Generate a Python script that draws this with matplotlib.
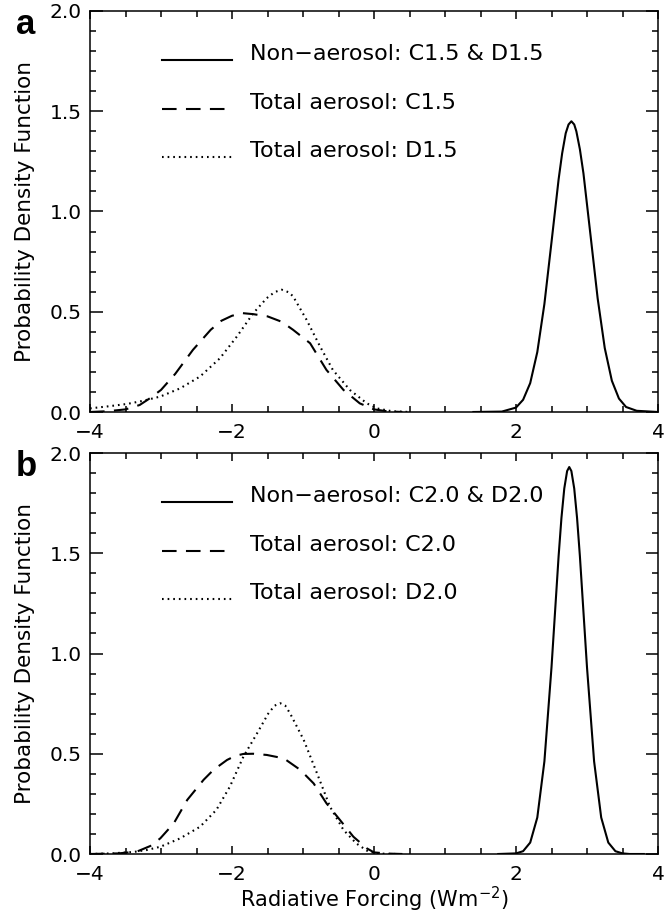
import matplotlib
matplotlib.use("Agg")
import matplotlib.pyplot as plt
from matplotlib.ticker import MultipleLocator

plt.rcParams['font.family'] = ['DejaVu Sans']

# Panel a: PDFs (C1.5 / D1.5)
xa_solid = [1.4, 1.8, 2.0, 2.1, 2.2, 2.3, 2.4, 2.5, 2.6, 2.65, 2.7, 2.74, 2.78, 2.82, 2.85, 2.9, 2.95,
            3.05, 3.15, 3.25, 3.35, 3.45, 3.55, 3.7, 4.0]
ya_solid = [0.0, 0.002, 0.022, 0.061, 0.144, 0.299, 0.539, 0.847, 1.16, 1.29, 1.39, 1.434, 1.45, 1.434,
            1.40, 1.31, 1.19, 0.88, 0.567, 0.319, 0.156, 0.067, 0.025, 0.006, 0.0]
xa_dash = [-4.0, -3.75, -3.5, -3.3, -3.15, -3.0, -2.8, -2.55, -2.3, -2.15, -2.0, -1.85, -1.7, -1.5,
           -1.3, -1.14, -0.9, -0.67, -0.43, -0.2, 0.0, 0.2, 0.4]
ya_dash = [0.0, 0.004, 0.013, 0.035, 0.07, 0.11, 0.19, 0.31, 0.41, 0.455, 0.48, 0.493, 0.488, 0.477,
           0.45, 0.41, 0.343, 0.21, 0.11, 0.043, 0.013, 0.003, 0.0]
xa_dot = [-4.0, -3.75, -3.48, -3.25, -3.01, -2.73, -2.45, -2.17, -1.93, -1.7, -1.51, -1.4, -1.3, -1.2,
          -1.14, -0.95, -0.76, -0.58, -0.34, -0.1, 0.04, 0.25, 0.5]
ya_dot = [0.018, 0.028, 0.04, 0.056, 0.077, 0.118, 0.177, 0.268, 0.377, 0.493, 0.568, 0.598, 0.61, 0.597,
          0.577, 0.46, 0.327, 0.21, 0.11, 0.043, 0.018, 0.004, 0.0]

# Panel b: PDFs (C2.0 / D2.0)
xb_solid = [1.75, 2.0, 2.1, 2.2, 2.3, 2.4, 2.5, 2.6, 2.64, 2.68, 2.72, 2.75, 2.78, 2.82, 2.86, 2.9,
            3.0, 3.1, 3.2, 3.3, 3.4, 3.5, 3.6, 3.8]
yb_solid = [0.0, 0.003, 0.014, 0.057, 0.182, 0.462, 0.931, 1.485, 1.676, 1.823, 1.91, 1.93, 1.91, 1.823,
            1.676, 1.485, 0.931, 0.462, 0.182, 0.057, 0.014, 0.003, 0.0, 0.0]
xb_dash = [-4.0, -3.6, -3.34, -3.15, -3.01, -2.82, -2.63, -2.4, -2.26, -2.07, -1.95, -1.84, -1.7, -1.51,
           -1.27, -1.04, -0.85, -0.67, -0.48, -0.29, -0.1, 0.0, 0.2, 0.4]
yb_dash = [0.0, 0.003, 0.012, 0.04, 0.078, 0.153, 0.27, 0.37, 0.42, 0.469, 0.49, 0.499, 0.5, 0.494,
           0.477, 0.42, 0.352, 0.253, 0.17, 0.086, 0.028, 0.008, 0.002, 0.0]
xb_dot = [-4.0, -3.7, -3.39, -3.2, -3.01, -2.73, -2.45, -2.22, -2.03, -1.84, -1.65, -1.49, -1.4, -1.32,
          -1.25, -1.18, -0.99, -0.8, -0.62, -0.43, -0.25, -0.08, 0.1, 0.3]
yb_dot = [0.0, 0.003, 0.01, 0.02, 0.036, 0.078, 0.136, 0.22, 0.336, 0.485, 0.60, 0.70, 0.74, 0.752,
          0.74, 0.70, 0.569, 0.40, 0.236, 0.12, 0.053, 0.012, 0.002, 0.0]

labels_a = ["Non\u2212aerosol: C1.5 & D1.5", "Total aerosol: C1.5", "Total aerosol: D1.5"]
labels_b = ["Non\u2212aerosol: C2.0 & D2.0", "Total aerosol: C2.0", "Total aerosol: D2.0"]

W, H = 671, 913
fig = plt.figure(figsize=(W / 100, H / 100), dpi=100)

# axes boxes in pixels (left, top, right, bottom)
boxes = [(90, 11, 658, 412), (90, 453, 658, 854)]

styles = [dict(ls='-'), dict(ls=(0, (7, 4.5))), dict(ls=(0, (0.8, 1.9)))]
lw = 1.5

panels = [
    ("a", [(xa_solid, ya_solid), (xa_dash, ya_dash), (xa_dot, ya_dot)], labels_a),
    ("b", [(xb_solid, yb_solid), (xb_dash, yb_dash), (xb_dot, yb_dot)], labels_b),
]

for (l, t, r, b), (tag, curves, labels) in zip(boxes, panels):
    ax = fig.add_axes([l / W, 1 - b / H, (r - l) / W, (b - t) / H])
    for (x, y), st in zip(curves, styles):
        ax.plot(x, y, color='black', lw=lw, **st)

    ax.set_xlim(-4, 4)
    ax.set_ylim(0, 2.0)
    ax.xaxis.set_major_locator(MultipleLocator(2))
    ax.xaxis.set_minor_locator(MultipleLocator(0.5))
    ax.yaxis.set_major_locator(MultipleLocator(0.5))
    ax.yaxis.set_minor_locator(MultipleLocator(0.1))
    ax.yaxis.set_major_formatter(plt.FormatStrFormatter('%.1f'))
    ax.tick_params(which='both', direction='in', top=True, right=True, width=1.1, labelsize=14.5)
    ax.tick_params(axis='x', which='major', length=6, pad=8)
    ax.tick_params(axis='x', which='minor', length=4)
    ax.tick_params(axis='y', which='major', length=9, pad=6)
    ax.tick_params(axis='y', which='minor', length=4.5)
    for s in ax.spines.values():
        s.set_linewidth(1.1)

    # hand-drawn legend, lines sit on the text baseline
    for k, (lab, st) in enumerate(zip(labels, styles)):
        yy = 0.878 - k * 0.1215
        ax.plot([0.127, 0.25], [yy, yy], transform=ax.transAxes, color='black', lw=lw, **st)
        ax.text(0.282, yy, lab, transform=ax.transAxes, fontsize=16, ha='left', va='baseline')

    # panel letter and y label
    fig.text(16 / W, 1 - (t + 23) / H, tag, fontsize=25, fontweight='bold', ha='left', va='baseline',
             family='Liberation Sans')
    fig.text(25 / W, 1 - (t + b) / 2 / H, "Probability Density Function", rotation=90,
             fontsize=15.5, ha='center', va='center')

# x label only under the lower panel
fig.text((90 + 658) / 2 / W, 1 - 899 / H, "Radiative Forcing (Wm$^{-2}$)", fontsize=15,
         ha='center', va='center')

fig.savefig("out.png", dpi=100)
